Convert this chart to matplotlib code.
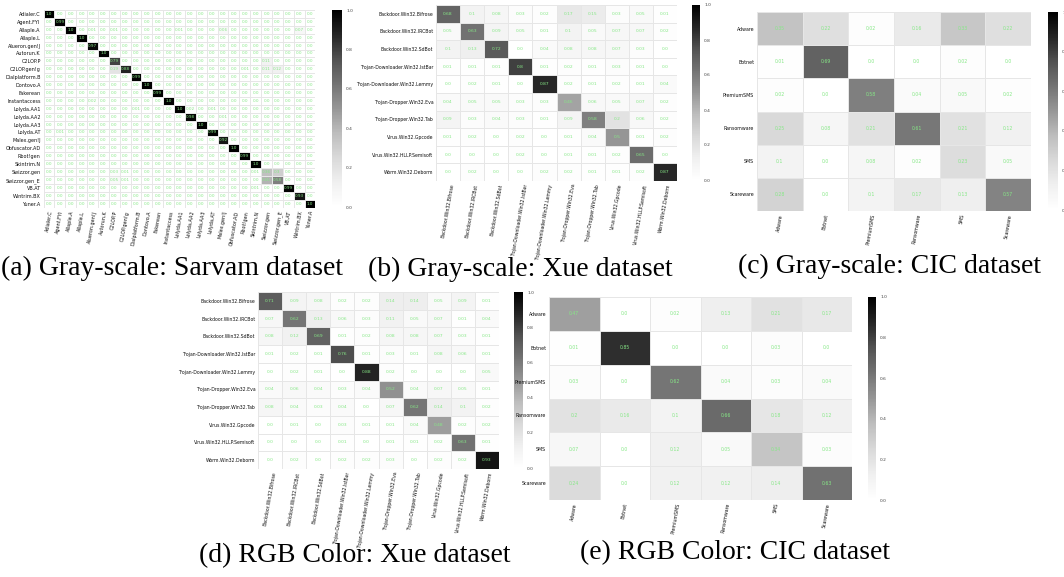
import matplotlib
matplotlib.use("Agg")
import matplotlib.pyplot as plt
import numpy as np

# ---------------- DATA ----------------
sarvam_labels = ["Adialer.C", "Agent.FYI", "Allaple.A", "Allaple.L", "Alueron.gen!J",
                 "Autorun.K", "C2LOP.P", "C2LOP.gen!g", "Dialplatform.B", "Dontovo.A",
                 "Fakerean", "Instantaccess", "Lolyda.AA1", "Lolyda.AA2", "Lolyda.AA3",
                 "Lolyda.AT", "Malex.gen!J", "Obfuscator.AD", "Rbot!gen", "Skintrim.N",
                 "Swizzor.gen", "Swizzor.gen_E", "VB.AT", "Wintrim.BX", "Yuner.A"]
sarvam_diag = [1.0, 0.99, 1.0, 1.0, 0.97, 1.0, 0.79, 0.88, 0.99, 1.0, 0.99, 1.0, 1.0,
               0.98, 1.0, 0.99, 0.92, 1.0, 0.99, 1.0, 0.36, 0.58, 0.99, 0.93, 1.0]
# off-diagonal entries: (row, col, value)
sarvam_off = [(2, 4, 0.01), (2, 6, 0.01), (2, 12, 0.01), (2, 16, 0.06), (2, 23, 0.07),
              (6, 20, 0.11), (7, 6, 0.19), (7, 18, 0.01), (7, 20, 0.11), (7, 21, 0.12),
              (11, 4, 0.02), (12, 8, 0.01), (12, 13, 0.02), (12, 15, 0.01),
              (13, 16, 0.01), (15, 1, 0.01),
              (20, 6, 0.03), (20, 7, 0.01), (20, 19, 0.01), (20, 21, 0.3),
              (21, 6, 0.05), (21, 7, 0.01), (21, 20, 0.41), (22, 19, 0.01)]

xue_labels = ["Backdoor.Win32.Bifrose", "Backdoor.Win32.IRCBot", "Backdoor.Win32.SdBot",
              "Trojan-Downloader.Win32.IstBar", "Trojan-Downloader.Win32.Lemmy",
              "Trojan-Dropper.Win32.Eva", "Trojan-Dropper.Win32.Tab", "Virus.Win32.Gpcode",
              "Virus.Win32.HLLP.Semisoft", "Worm.Win32.Deborm"]
xue_gray = [
    [0.68, 0.1, 0.08, 0.03, 0.02, 0.17, 0.15, 0.03, 0.05, 0.01],
    [0.05, 0.63, 0.09, 0.05, 0.01, 0.1, 0.05, 0.07, 0.07, 0.02],
    [0.1, 0.13, 0.72, 0.0, 0.04, 0.08, 0.08, 0.07, 0.03, 0.0],
    [0.01, 0.01, 0.01, 0.8, 0.01, 0.02, 0.01, 0.03, 0.01, 0.0],
    [0.0, 0.02, 0.01, 0.0, 0.87, 0.02, 0.01, 0.02, 0.01, 0.04],
    [0.04, 0.05, 0.05, 0.03, 0.03, 0.46, 0.06, 0.05, 0.07, 0.02],
    [0.09, 0.03, 0.04, 0.03, 0.01, 0.09, 0.58, 0.2, 0.06, 0.02],
    [0.01, 0.02, 0.0, 0.02, 0.0, 0.01, 0.04, 0.5, 0.01, 0.02],
    [0.0, 0.0, 0.0, 0.02, 0.0, 0.01, 0.01, 0.02, 0.65, 0.0],
    [0.0, 0.02, 0.0, 0.0, 0.02, 0.02, 0.01, 0.01, 0.02, 0.87],
]
xue_rgb = [
    [0.71, 0.09, 0.08, 0.02, 0.02, 0.14, 0.14, 0.05, 0.09, 0.01],
    [0.07, 0.62, 0.13, 0.06, 0.03, 0.11, 0.05, 0.07, 0.01, 0.04],
    [0.08, 0.12, 0.69, 0.01, 0.02, 0.08, 0.08, 0.07, 0.03, 0.01],
    [0.01, 0.02, 0.01, 0.76, 0.01, 0.03, 0.01, 0.08, 0.06, 0.01],
    [0.0, 0.02, 0.01, 0.0, 0.88, 0.02, 0.0, 0.0, 0.0, 0.05],
    [0.04, 0.06, 0.04, 0.03, 0.04, 0.52, 0.04, 0.07, 0.05, 0.01],
    [0.08, 0.04, 0.03, 0.04, 0.0, 0.07, 0.62, 0.14, 0.1, 0.02],
    [0.0, 0.01, 0.0, 0.03, 0.01, 0.01, 0.04, 0.48, 0.02, 0.02],
    [0.0, 0.0, 0.0, 0.01, 0.0, 0.01, 0.01, 0.02, 0.63, 0.01],
    [0.0, 0.02, 0.0, 0.02, 0.02, 0.03, 0.0, 0.02, 0.02, 0.93],
]

cic_labels = ["Adware", "Botnet", "PremiumSMS", "Ransomware", "SMS", "Scareware"]
cic_gray = [
    [0.35, 0.22, 0.02, 0.16, 0.33, 0.22],
    [0.01, 0.69, 0.0, 0.0, 0.02, 0.0],
    [0.02, 0.0, 0.58, 0.04, 0.05, 0.02],
    [0.25, 0.08, 0.21, 0.61, 0.21, 0.12],
    [0.1, 0.0, 0.08, 0.02, 0.23, 0.05],
    [0.28, 0.0, 0.1, 0.17, 0.13, 0.57],
]
cic_rgb = [
    [0.47, 0.0, 0.02, 0.13, 0.21, 0.17],
    [0.01, 0.85, 0.0, 0.0, 0.03, 0.0],
    [0.03, 0.0, 0.62, 0.04, 0.03, 0.04],
    [0.2, 0.16, 0.1, 0.66, 0.18, 0.12],
    [0.07, 0.0, 0.12, 0.05, 0.34, 0.03],
    [0.24, 0.0, 0.12, 0.12, 0.14, 0.63],
]

captions = ["(a) Gray-scale: Sarvam dataset", "(b) Gray-scale: Xue dataset",
            "(c) Gray-scale: CIC dataset", "(d) RGB Color: Xue dataset",
            "(e) RGB Color: CIC dataset"]

cbar_ticks = [0.0, 0.2, 0.4, 0.6, 0.8, 1.0]

# build sarvam matrix from entries
n = len(sarvam_labels)
sarvam = np.zeros((n, n))
for i, v in enumerate(sarvam_diag):
    sarvam[i, i] = v
for r, c, v in sarvam_off:
    sarvam[r, c] = v

# ---------------- FIGURE ----------------
W, H = 1064, 577
fig = plt.figure(figsize=(W / 100, H / 100), dpi=100)


def px_axes(x0, y0, x1, y1):
    return fig.add_axes([x0 / W, 1 - y1 / H, (x1 - x0) / W, (y1 - y0) / H])


def heat(box, cbox, mat, labels, tfs, afs, rot=80):
    mat = np.asarray(mat, dtype=float)
    ax = px_axes(*box)
    nr, nc = mat.shape
    mesh = ax.pcolormesh(np.arange(nc + 1), np.arange(nr + 1), mat, cmap="Greys",
                         vmin=0, vmax=1, edgecolors="#e6e6e6", linewidth=0.6)
    ax.set_xlim(0, nc)
    ax.set_ylim(nr, 0)
    for i in range(nr):
        for j in range(nc):
            ax.text(j + 0.5, i + 0.5, f"{mat[i, j]}", ha="center", va="center",
                    fontsize=afs, color="#86e886")
    ax.set_xticks(np.arange(nc) + 0.5)
    ax.set_yticks(np.arange(nr) + 0.5)
    ax.set_xticklabels(labels, rotation=rot, fontsize=tfs, ha="center", va="top",
                       color="#111111")
    ax.set_yticklabels(labels, fontsize=tfs, color="#111111")
    ax.tick_params(length=0, pad=2)
    for s in ax.spines.values():
        s.set_visible(False)
    cax = px_axes(*cbox)
    cb = fig.colorbar(mesh, cax=cax, ticks=cbar_ticks)
    cb.outline.set_visible(False)
    cb.ax.tick_params(labelsize=3.2, length=0, pad=3, labelcolor="#444444")
    return ax


heat((43.5, 10, 315.5, 207.5), (332, 10, 342, 207), sarvam, sarvam_labels, 3.5, 3.0)
heat((436, 5, 677, 181), (692, 5, 700, 180), xue_gray, xue_labels, 3.3, 3.2)
heat((757, 12, 1031, 211), (1048, 12, 1058, 210), cic_gray, cic_labels, 3.4, 3.3)
heat((258, 292, 499, 469), (514, 292, 523, 468), xue_rgb, xue_labels, 3.3, 3.2)
heat((549, 297, 852, 500), (868, 297, 876, 500), cic_rgb, cic_labels, 3.4, 3.3)

cap_pos = [(172, 268), (520, 269), (890, 266), (355, 556), (735, 553)]
for txt, (cx, cy) in zip(captions, cap_pos):
    fig.text(cx / W, 1 - cy / H, txt, ha="center", va="center", fontsize=20,
             family="Liberation Serif")

fig.savefig("out.png", dpi=100)
